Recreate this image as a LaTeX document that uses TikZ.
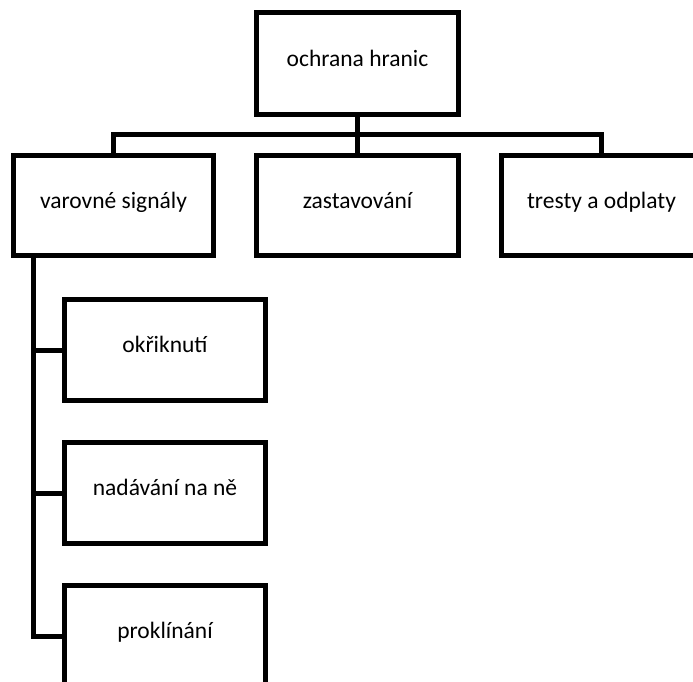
\documentclass[tikz,border=0pt]{standalone}
\usepackage{fontspec}
\setmainfont{Carlito}
\begin{document}
\begin{tikzpicture}[x=1pt, y=-1pt,
        box/.style={draw, line width=5pt, minimum width=#1, minimum height=100pt,
            inner sep=0pt, text height=0.7em, text depth=0.2em,
            font=\fontsize{23.5}{28}\selectfont},
        box/.default=200pt,
        link/.style={line width=5pt}]
        \useasboundingbox (0,0) rectangle (693,681);
        \clip (0,0) rectangle (693,681);
        \node[box=202pt, minimum height=102pt] (hranice) at (357.5,63.5) {ochrana hranic};
        \node[box] (signaly) at (113.5,205.5) {varovné signály};
        \node[box=202pt] (zastav) at (357.5,205.5) {zastavování};
        \node[box] (tresty) at (601.5,205.5) {tresty a odplaty};
        \node[box=201pt, minimum height=101pt] (okriknuti) at (165,350) {okřiknutí};
        \node[box=201pt, minimum height=101pt] (nadavani) at (165,493) {nadávání na ně};
        \node[box=201pt, minimum height=101pt] (proklinani) at (165,636) {proklínání};
        \coordinate (bus) at (357.5,134.5);
        \coordinate (trunk) at (33.5,636);
        \draw[link] (hranice) -- (zastav);
        \draw[link] (signaly.north) |- (bus) -| (tresty.north);
        \draw[link] (signaly.south -| trunk) |- (proklinani.west);
        \draw[link] (okriknuti.west) -- (okriknuti.west -| trunk);
        \draw[link] (nadavani.west) -- (nadavani.west -| trunk);
    \end{tikzpicture}
\end{document}
